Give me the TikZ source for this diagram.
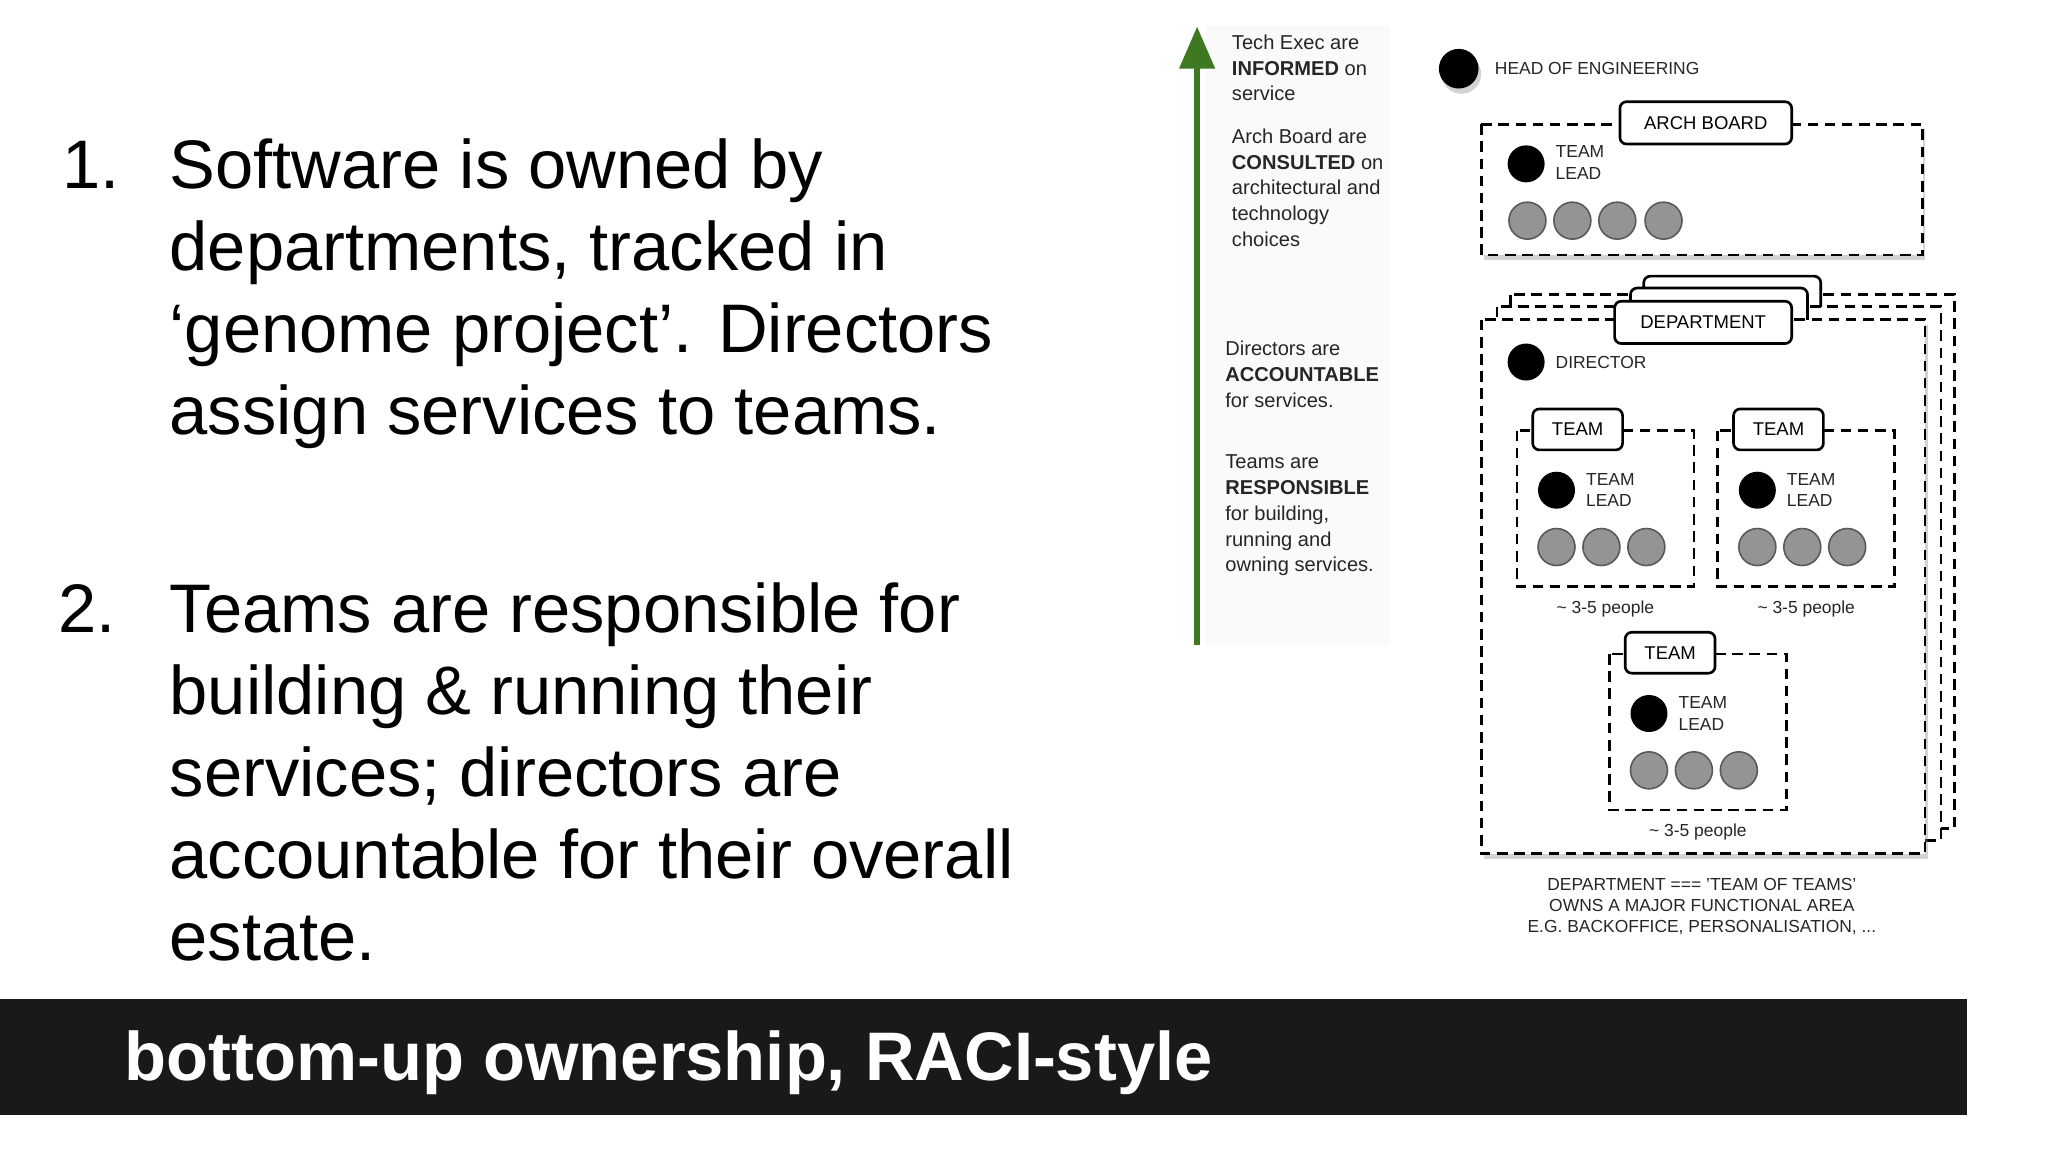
\documentclass[tikz,border=0pt]{standalone}
\usepackage{fontspec}
\setmainfont{Liberation Sans}
\usetikzlibrary{shadows,arrows.meta}
\begin{document}
\begin{tikzpicture}[x=0.5pt,y=-0.5pt,
  big/.style={anchor=base west,inner sep=0,font=\fontsize{26}{31}\selectfont},
  side/.style={anchor=north west,inner sep=0,align=left,font=\fontsize{7.6}{9.75}\selectfont,text=black!85},
  lbl/.style={anchor=west,inner sep=0,font=\fontsize{6.6}{8}\selectfont,align=left,text=black!85},
  dbox/.style={draw,line width=1pt,dash pattern=on 4pt off 2.5pt,fill=white},
  tabbox/.style={draw,line width=1pt,fill=white,rounded corners=2.5pt},
  lead/.style={circle,fill=black,minimum size=14pt,inner sep=0},
  member/.style={circle,fill=black!42,draw=black!65,line width=0.6pt,minimum size=14pt,inner sep=0},
  shad/.style={drop shadow={opacity=0.35,shadow xshift=1pt,shadow yshift=-2pt}}]
\useasboundingbox (0,0) rectangle (1550,872);
% left text
\node[big] (n1) at (47,143) {1.};
\node[big] (l1a) at (128,143) {Software is owned by};
\node[big] (l1b) at (128,205) {departments, tracked in};
\node[big] (l1c) at (128,267) {‘genome project’. Directors};
\node[big] (l1d) at (128,329) {assign services to teams.};
\node[big] (n2) at (44,479) {2.};
\node[big] (l2a) at (128,479) {Teams are responsible for};
\node[big] (l2b) at (128,541) {building \& running their};
\node[big] (l2c) at (128,603) {services; directors are};
\node[big] (l2d) at (128,665) {accountable for their overall};
\node[big] (l2e) at (128,727) {estate.};
% bottom bar
\fill[black!90] (0,756) rectangle (1489,844);
\node[anchor=base west,inner sep=0,text=white,font=\fontsize{26}{30}\selectfont\bfseries] (title) at (94,818) {bottom-up ownership, RACI-style};
% green arrow
\fill[black!2] (912,20) rectangle (1052,488);
\coordinate (ab) at (906,488);
\coordinate (at) at (906,20);
\draw[line width=2.5pt,draw={rgb,255:red,62;green,120;blue,32},-{Triangle[length=16pt,width=13pt]}] (ab) -- (at);
\node[side] (t1) at (932,26) {Tech Exec are\\\textbf{INFORMED} on\\service};
\node[side] (t2) at (932,97) {Arch Board are\\\textbf{CONSULTED} on\\architectural and\\technology\\choices};
\node[side] (t3) at (927,258) {Directors are\\\textbf{ACCOUNTABLE}\\for services.};
\node[side] (t4) at (927,344) {Teams are\\\textbf{RESPONSIBLE}\\for building,\\running and\\owning services.};
% head
\node[lead,minimum size=15pt,shad] (head) at (1104,52) {};
\node[lbl] (headl) at (1131,52) {HEAD OF ENGINEERING};
% arch board
\draw[dbox,shad] (1121,94) rectangle (1455,193);
\node[tabbox,minimum width=65pt,minimum height=16pt,inner sep=0,font=\fontsize{7}{8}\selectfont] (arch) at (1291,93) {ARCH BOARD};
\node[lead] (al) at (1155,124) {};
\node[lbl] (all) at (1177,123) {TEAM\\LEAD};
\foreach \x/\n in {1156/a1,1190/a2,1224/a3,1259/a4} \node[member] (\n) at (\x,167) {};
% department stacks
\foreach \dx/\dy in {22/-19,12/-10} {
  \draw[dbox] (1121+\dx,242+\dy) rectangle (1457+\dx,646+\dy);
  \draw[tabbox] (1222+\dx,228+\dy) rectangle (1356+\dx,260+\dy);
}
\draw[dbox,shad] (1121,242) rectangle (1457,646);
\node[tabbox,minimum width=67pt,minimum height=16pt,inner sep=0,font=\fontsize{7}{8}\selectfont] (dept) at (1289,244) {DEPARTMENT};
\node[lead] (dir) at (1155,274) {};
\node[lbl] (dirl) at (1177,274) {DIRECTOR};
% teams
\foreach \bx/\by/\k in {1148/326/1,1300/326/2,1218/495/3} {
  \draw[dbox] (\bx,\by) rectangle (\bx+134,\by+118);
  \node[tabbox,minimum width=34pt,minimum height=15.5pt,inner sep=0,font=\fontsize{7}{8}\selectfont] (tab\k) at (\bx+46,\by-1) {TEAM};
  \node[lead] (tl\k) at (\bx+30,\by+45) {};
  \node[lbl] (tll\k) at (\bx+52,\by+45) {TEAM\\LEAD};
  \node[member] (m\k a) at (\bx+30,\by+88) {};
  \node[member] (m\k b) at (\bx+64,\by+88) {};
  \node[member] (m\k c) at (\bx+98,\by+88) {};
  \node[inner sep=0,font=\fontsize{6.6}{8}\selectfont,text=black!85] (pp\k) at (\bx+67,\by+135) {\textasciitilde\ 3-5 people};
}
\node[inner sep=0,align=center,font=\fontsize{6.6}{8}\selectfont,text=black!85] (cap) at (1288,686) {DEPARTMENT === 'TEAM OF TEAMS'\\OWNS A MAJOR FUNCTIONAL AREA\\E.G. BACKOFFICE, PERSONALISATION, ...};
\end{tikzpicture}
\end{document}
